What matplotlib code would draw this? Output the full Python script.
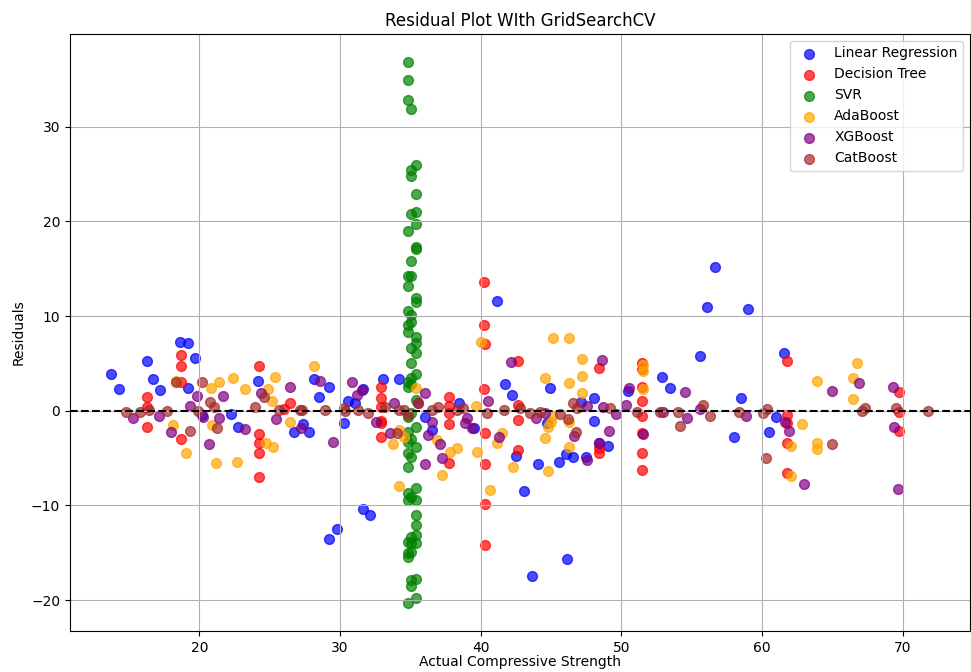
import numpy as np
import matplotlib
matplotlib.use('Agg')
import matplotlib.pyplot as plt

# residuals of each tuned model, plotted against strength
lr_x = [13.73, 14.3, 16.24, 16.71, 17.23, 18.6, 19.17, 19.72, 19.17, 20.19, 22.25, 22.75, 24.14, 26.75,
        27.34, 27.83, 28.17, 28.5, 29.23, 29.21, 29.78, 30.25, 30.6, 31.08, 31.6, 32.14, 31.67, 33.09,
        34.16, 36.05, 36.57, 38.49, 39.55, 41.19, 41.73, 42.21, 42.54, 43.1, 43.65, 44.1, 44.69, 44.9,
        45.57, 46.04, 46.11, 46.58, 47.13, 47.46, 48.05, 48.05, 48.43, 49.07, 50.45, 52.9, 53.5, 55.58,
        56.1, 56.65, 58.02, 58.54, 59.0, 60.48, 61.03, 61.57]
lr_res = [3.87, 2.32, 5.28, 3.35, 2.15, 7.29, 7.12, 5.6, 2.4, -0.45, -0.35, -1.69, 3.17, -2.28,
          -1.4, -2.28, 3.35, 1.48, 2.53, -13.52, -12.49, -1.33, 1.02, 0.78, -10.35, -11.01, 2.26, 3.35,
          3.35, -0.63, -2.04, 0.85, -1.86, 11.55, 2.85, 1.66, -4.75, -8.45, -17.49, -5.63, -1.33, 2.37,
          -5.45, -4.57, -15.66, -4.92, 0.95, -4.92, -1.1, 1.31, -3.38, -3.73, 2.11, 3.59, 2.37, 5.78,
          10.98, 15.14, -2.74, 1.31, 10.7, -2.22, -0.7, 6.12]

dt_x = [16.29, 16.29, 16.29, 18.7, 18.7, 18.7, 18.7, 24.26, 24.26, 24.26, 24.26, 24.26, 26.46, 26.0,
        32.93, 32.93, 32.93, 32.93, 32.93, 32.93, 37.76, 37.76, 37.76, 37.76, 37.76, 40.26, 40.26, 40.31,
        40.26, 40.31, 40.31, 40.31, 40.31, 42.68, 42.68, 42.68, 42.68, 48.41, 48.41, 48.41, 51.49, 51.49,
        51.49, 51.49, 51.49, 51.49, 51.49, 51.49, 61.78, 61.78, 61.78, 61.78, 61.78, 69.74, 69.74, 69.74]
dt_res = [1.41, 0.36, -1.75, 5.85, 4.69, 3.0, -2.99, 4.72, -2.5, -3.38, -4.43, -6.97, 0.85, 0.2,
          2.47, 1.31, 0.42, -1.06, -1.33, -2.74, 1.48, 0.5, -0.28, -1.4, -5.56, 13.6, 9.05, 7.01,
          2.26, -2.39, -5.66, -9.85, -14.18, 5.25, 0.6, -0.98, -4.15, 4.48, -3.9, -4.5, 5.07, 4.37,
          2.47, 1.06, -0.53, -2.39, -4.5, -6.26, 5.28, -0.45, -1.33, -3.44, -6.54, 1.97, -0.17, -2.11]

svr_x = [34.82, 34.82, 34.82, 35.06, 35.39, 35.04, 35.06, 35.39, 35.39, 35.06, 35.39, 34.82, 35.39, 35.39,
         35.06, 34.82, 35.06, 34.82, 35.39, 35.39, 34.82, 35.06, 34.82, 35.06, 34.82, 35.39, 35.39, 35.06,
         35.39, 35.06, 35.39, 35.06, 34.82, 34.82, 35.06, 35.39, 35.06, 34.82, 35.39, 34.82, 35.06, 34.82,
         35.39, 34.82, 35.06, 34.82, 35.39, 34.82, 35.06, 34.82, 35.39, 35.39, 35.39, 35.39, 35.06, 34.82,
         35.06, 35.39, 34.82, 34.82, 35.06, 35.06, 35.39, 35.06, 35.39, 34.82]
svr_res = [36.85, 34.89, 32.8, 31.93, 25.91, 25.42, 24.78, 22.88, 21.01, 20.74, 19.72, 19.0, 17.25, 17.07,
           15.81, 14.22, 14.26, 13.13, 11.93, 11.45, 10.56, 10.15, 9.05, 9.4, 8.34, 7.81, 7.12, 6.59,
           6.13, 5.07, 3.88, 3.42, 3.06, 2.47, 2.8, 1.13, -0.28, -0.7, -1.75, -2.22, -3.02, -3.27,
           -3.8, -4.5, -4.86, -5.98, -8.2, -8.73, -9.08, -9.43, -9.43, -11.0, -12.1, -13.13, -13.3, -13.83,
           -14.0, -13.94, -15.06, -15.4, -14.9, -17.88, -17.8, -18.5, -19.75, -20.34]

ada_x = [18.15, 18.37, 19.08, 20.83, 20.87, 21.2, 21.37, 22.37, 22.68, 23.22, 24.76, 24.88, 25.17, 25.2,
         25.35, 26.46, 28.12, 33.76, 34.16, 34.16, 34.58, 35.41, 36.88, 37.24, 37.83, 38.35, 39.67, 39.72,
         40.03, 40.67, 41.14, 41.5, 42.32, 44.57, 44.57, 44.81, 44.81, 45.09, 44.98, 45.16, 46.3, 46.3,
         46.3, 46.3, 47.22, 47.22, 47.22, 51.56, 51.56, 51.56, 62.05, 62.05, 62.88, 63.91, 63.91, 63.91,
         66.45, 66.45, 66.73]
ada_res = [-1.54, 3.17, -4.5, 2.43, -1.51, -5.56, 3.06, 3.45, -5.45, 2.26, -3.38, 2.29, 1.06, -3.87,
           3.56, -1.16, 4.75, -3.52, -2.04, -7.95, -2.74, 2.36, -3.09, -6.79, -4.39, -3.9, 0.5, -4.33,
           7.29, -8.37, -3.38, -2.32, -5.98, 3.42, -2.92, -1.69, -6.37, -0.56, -1.16, 7.64, 7.64, 2.96,
           -1.16, -3.8, 5.43, 3.66, 1.84, 4.83, 4.19, 2.26, -3.73, -6.9, -1.44, 3.17, -3.44, -4.04,
           3.42, 1.2, 5.07]

xgb_x = [15.26, 17.11, 17.99, 19.36, 19.84, 20.23, 20.69, 21.42, 21.65, 23.22, 24.4, 25.47, 26.41, 27.24,
         28.6, 29.47, 30.84, 31.55, 31.24, 32.57, 33.57, 33.87, 35.58, 36.05, 36.05, 36.28, 36.53, 37.12,
         37.24, 38.89, 39.01, 39.36, 40.55, 41.31, 42.16, 43.97, 44.57, 46.63, 47.53, 47.58, 48.41, 48.6,
         48.71, 49.14, 49.66, 50.33, 50.56, 51.56, 52.98, 54.52, 54.64, 55.58, 58.9, 61.62, 61.93, 62.97,
         65.0, 66.9, 69.31, 69.43, 69.69]
xgb_res = [-0.74, -0.53, -2.25, 0.5, 1.58, -0.63, -3.52, -0.8, 1.58, -1.97, 1.84, -0.88, 2.53, -1.86,
           3.1, -3.27, 3.06, 2.19, 1.66, -1.16, -2.39, 0.78, 0.78, 1.84, -5.63, -2.57, -1.16, -3.52,
           -5.03, -1.33, -0.8, -1.79, 1.06, -2.81, 5.18, -0.8, -0.21, -2.67, 0.5, -5.21, -3.38, 5.35,
           0.42, -2.14, -0.35, 0.6, 2.37, -2.46, -0.17, 2.0, -0.74, 0.14, -0.53, -1.16, -2.11, -7.77,
           2.05, 2.96, 2.47, -1.75, -8.3]

cat_x = [14.8, 15.81, 16.45, 17.7, 18.37, 19.31, 19.91, 20.19, 20.73, 21.02, 21.26, 23.98, 24.57, 25.63,
         27.17, 27.29, 28.9, 30.25, 30.37, 31.31, 32.02, 33.21, 34.04, 34.16, 34.52, 34.87, 35.58, 36.53,
         37.0, 38.3, 38.77, 40.43, 41.66, 42.8, 43.5, 44.22, 45.64, 46.18, 46.54, 46.75, 46.82, 49.19,
         51.13, 52.74, 54.04, 54.16, 55.82, 56.34, 58.37, 60.08, 60.36, 60.32, 64.96, 67.11, 67.35, 69.55,
         71.82]
cat_res = [-0.1, -0.1, 0.07, -0.03, 3.06, -2.11, -0.03, 3.06, 0.95, 0.42, -1.86, 0.42, 1.48, 0.07,
           0.07, 0.07, 0.07, 0.32, 0.0, 0.07, -0.28, 0.42, -2.39, 0.07, 0.07, -0.45, 0.85, 0.07,
           0.42, 0.07, 0.25, -0.28, 0.07, 0.25, -0.28, -0.1, -0.38, -0.88, 0.85, -2.22, 0.25, 0.25,
           -0.17, -0.17, -0.17, -1.62, 0.6, -0.53, -0.1, -0.28, 0.14, -5.03, -3.52, -0.03, 0.32, 0.32,
           -0.03]

models = [
    ('Linear Regression', lr_x, lr_res, 'blue'),
    ('Decision Tree', dt_x, dt_res, 'red'),
    ('SVR', svr_x, svr_res, 'green'),
    ('AdaBoost', ada_x, ada_res, 'orange'),
    ('XGBoost', xgb_x, xgb_res, 'purple'),
    ('CatBoost', cat_x, cat_res, 'brown'),
]

fig = plt.figure(figsize=(9.71, 6.72), dpi=100)
ax = fig.add_axes([70 / 971, 41 / 672, 900 / 971, 597 / 672])

for name, xs, res, col in models:
    ax.scatter(xs, res, color=col, alpha=0.7, s=50, label=name)

ax.axhline(y=0, color='black', linestyle='--', linewidth=1.5)
ax.set_xlim(10.8, 74.8)
ax.set_ylim(-23.26, 39.8)
ax.set_title('Residual Plot WIth GridSearchCV')
ax.set_xlabel('Actual Compressive Strength', labelpad=0)
ax.set_ylabel('Residuals')
ax.legend(loc='upper right')
ax.grid(True)

fig.savefig('out.png', dpi=100)
